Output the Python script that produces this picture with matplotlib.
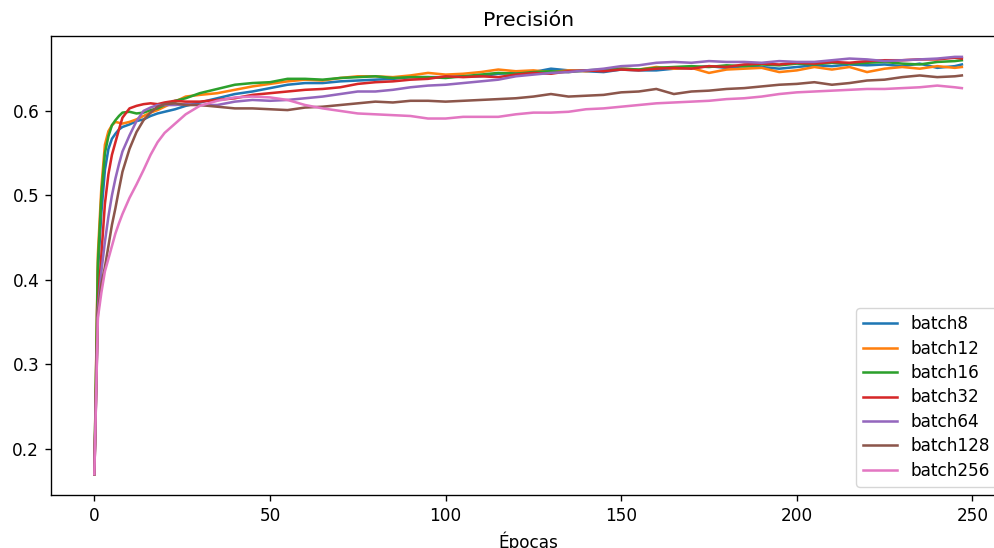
import matplotlib
matplotlib.use("Agg")
from matplotlib import pyplot as plt

epochs = [0, 1, 2, 3, 4, 5, 6, 7, 8, 10, 12, 14, 16, 18, 20, 23, 26] + \
    list(range(30, 246, 5)) + [247]

batch8 = [0.17, 0.41, 0.48, 0.53, 0.555, 0.567, 0.573, 0.578, 0.581, 0.584, 0.588, 0.590, 0.594, 0.597, 0.599, 0.602, 0.606,
          0.610, 0.615, 0.620, 0.623, 0.627, 0.631, 0.633, 0.633, 0.635, 0.636, 0.637, 0.638, 0.640, 0.640, 0.640, 0.641,
          0.641, 0.644, 0.645, 0.646, 0.650, 0.648, 0.647, 0.646, 0.649, 0.648, 0.648, 0.650, 0.651, 0.653, 0.651, 0.653,
          0.652, 0.650, 0.652, 0.654, 0.653, 0.655, 0.654, 0.655, 0.653, 0.656, 0.651, 0.653, 0.655]
batch12 = [0.17, 0.43, 0.51, 0.56, 0.576, 0.583, 0.587, 0.586, 0.585, 0.587, 0.590, 0.594, 0.598, 0.601, 0.605, 0.611, 0.617,
           0.619, 0.621, 0.625, 0.629, 0.632, 0.635, 0.637, 0.636, 0.639, 0.641, 0.641, 0.640, 0.642, 0.645, 0.643, 0.644,
           0.646, 0.649, 0.647, 0.648, 0.646, 0.648, 0.647, 0.649, 0.650, 0.649, 0.652, 0.650, 0.651, 0.645, 0.649, 0.650,
           0.651, 0.646, 0.648, 0.652, 0.649, 0.652, 0.646, 0.650, 0.652, 0.650, 0.653, 0.651, 0.652]
batch16 = [0.17, 0.42, 0.50, 0.55, 0.57, 0.583, 0.589, 0.594, 0.598, 0.599, 0.597, 0.598, 0.601, 0.603, 0.607, 0.612, 0.615,
           0.621, 0.626, 0.631, 0.633, 0.634, 0.638, 0.638, 0.637, 0.639, 0.640, 0.641, 0.639, 0.640, 0.640, 0.639, 0.641,
           0.643, 0.645, 0.644, 0.646, 0.647, 0.646, 0.648, 0.649, 0.650, 0.649, 0.651, 0.652, 0.653, 0.652, 0.654, 0.653,
           0.655, 0.654, 0.656, 0.655, 0.657, 0.656, 0.657, 0.658, 0.656, 0.655, 0.658, 0.659, 0.660]
batch32 = [0.17, 0.37, 0.43, 0.49, 0.525, 0.548, 0.563, 0.578, 0.592, 0.603, 0.606, 0.608, 0.609, 0.608, 0.610, 0.612, 0.611,
           0.611, 0.613, 0.615, 0.619, 0.621, 0.623, 0.625, 0.626, 0.628, 0.632, 0.634, 0.635, 0.637, 0.638, 0.641, 0.640,
           0.641, 0.640, 0.643, 0.645, 0.644, 0.647, 0.648, 0.647, 0.649, 0.648, 0.650, 0.651, 0.650, 0.653, 0.652, 0.655,
           0.656, 0.655, 0.657, 0.656, 0.658, 0.657, 0.659, 0.660, 0.660, 0.661, 0.661, 0.663, 0.662]
batch64 = [0.17, 0.365, 0.41, 0.445, 0.475, 0.50, 0.52, 0.537, 0.552, 0.571, 0.588, 0.600, 0.604, 0.607, 0.607, 0.607, 0.608,
           0.607, 0.607, 0.611, 0.613, 0.612, 0.613, 0.615, 0.617, 0.620, 0.623, 0.623, 0.625, 0.628, 0.630, 0.631, 0.633,
           0.635, 0.637, 0.641, 0.643, 0.645, 0.646, 0.648, 0.650, 0.653, 0.654, 0.657, 0.658, 0.657, 0.659, 0.658, 0.658,
           0.657, 0.659, 0.658, 0.658, 0.660, 0.662, 0.661, 0.659, 0.660, 0.661, 0.662, 0.664, 0.664]
batch128 = [0.17, 0.36, 0.395, 0.415, 0.44, 0.465, 0.485, 0.507, 0.528, 0.555, 0.575, 0.589, 0.598, 0.605, 0.608, 0.609, 0.607,
            0.607, 0.605, 0.603, 0.603, 0.602, 0.601, 0.604, 0.605, 0.607, 0.609, 0.611, 0.610, 0.612, 0.612, 0.611, 0.612,
            0.613, 0.614, 0.615, 0.617, 0.620, 0.617, 0.618, 0.619, 0.622, 0.623, 0.626, 0.620, 0.623, 0.624, 0.626, 0.627,
            0.629, 0.631, 0.632, 0.634, 0.631, 0.633, 0.636, 0.637, 0.640, 0.642, 0.640, 0.641, 0.642]
batch256 = [0.17, 0.355, 0.385, 0.41, 0.425, 0.44, 0.455, 0.467, 0.478, 0.497, 0.513, 0.530, 0.548, 0.563, 0.574, 0.585, 0.596,
            0.606, 0.612, 0.616, 0.617, 0.616, 0.613, 0.607, 0.603, 0.600, 0.597, 0.596, 0.595, 0.594, 0.591, 0.591, 0.593,
            0.593, 0.593, 0.596, 0.598, 0.598, 0.599, 0.602, 0.603, 0.605, 0.607, 0.609, 0.610, 0.611, 0.612, 0.614, 0.615,
            0.617, 0.620, 0.622, 0.623, 0.624, 0.625, 0.626, 0.626, 0.627, 0.628, 0.630, 0.628, 0.627]

series = {
    "batch8": batch8,
    "batch12": batch12,
    "batch16": batch16,
    "batch32": batch32,
    "batch64": batch64,
    "batch128": batch128,
    "batch256": batch256,
}

# the reference was rendered at a higher dpi, so scale all defaults up a bit
k = 1.22
plt.rcParams.update({
    "font.size": 10 * k,
    "lines.linewidth": 1.5 * k,
    "axes.linewidth": 0.8 * k,
    "xtick.major.size": 3.5 * k,
    "ytick.major.size": 3.5 * k,
    "xtick.major.width": 0.8 * k,
    "ytick.major.width": 0.8 * k,
    "xtick.major.pad": 3.5 * k,
    "ytick.major.pad": 3.5 * k,
    "axes.titlepad": 6 * k,
    "axes.labelpad": 4 * k,
})

fig = plt.figure(figsize=(9.94, 5.48), dpi=100)
ax = fig.add_axes([0.0513, 0.0967, 0.96, 0.8376])

for name, vals in series.items():
    ax.plot(epochs, vals, label=name)

ax.set_title("Precisión")
ax.set_xlabel("Épocas")
ax.legend(loc="lower right", labelspacing=0.38)

fig.savefig("out.png", dpi=100)
